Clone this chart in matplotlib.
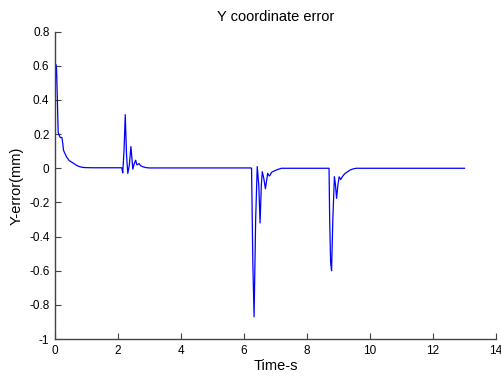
import matplotlib
matplotlib.use("Agg")
import matplotlib.pyplot as plt

# time (s) and Y error (mm)
time_s = [0.0, 0.01, 0.02, 0.05, 0.10, 0.14, 0.17, 0.22, 0.25, 0.27, 0.32, 0.37, 0.45,
          0.58, 0.66, 0.74, 0.85, 0.95, 1.2, 2.12,
          2.15, 2.19, 2.23, 2.27, 2.31, 2.36, 2.41, 2.47, 2.52, 2.56, 2.60, 2.67,
          2.72, 2.77, 2.88, 3.0, 6.22,
          6.24, 6.28, 6.32, 6.37, 6.42, 6.47, 6.51, 6.55, 6.58, 6.63, 6.68, 6.72,
          6.75, 6.80, 6.83, 6.87, 6.91, 6.97, 7.03, 7.10, 7.19, 7.3, 8.70,
          8.72, 8.75, 8.78, 8.82, 8.87, 8.90, 8.94, 8.98, 9.02, 9.07, 9.12, 9.16,
          9.21, 9.29, 9.37, 9.46, 9.56, 13.0]
y_err = [0.0, 0.45, 0.61, 0.58, 0.21, 0.19, 0.18, 0.18, 0.14, 0.105, 0.085, 0.065, 0.045,
         0.03, 0.02, 0.012, 0.006, 0.004, 0.003, 0.003,
         -0.027, 0.10, 0.314, 0.08, -0.03, 0.02, 0.127, -0.005, 0.03, 0.047, 0.02, 0.027,
         0.015, 0.01, 0.004, 0.002, 0.002,
         0.0, -0.55, -0.87, -0.30, 0.01, -0.10, -0.32, -0.10, -0.02, -0.06, -0.12, -0.07,
         -0.03, -0.045, -0.04, -0.025, -0.02, -0.015, -0.01, -0.005, 0.0, 0.0, 0.0,
         -0.30, -0.55, -0.60, -0.30, -0.05, -0.09, -0.176, -0.10, -0.05, -0.066, -0.05, -0.04,
         -0.03, -0.02, -0.01, -0.004, 0.0, 0.0]

plt.rcParams['font.family'] = ['Liberation Sans', 'DejaVu Sans']

fig = plt.figure(figsize=(5.02, 3.76), dpi=100)
ax = fig.add_axes((0.1096, 0.0984, 0.8784, 0.8173))

ax.plot(time_s, y_err, color='#0000ff', linewidth=0.9)

ax.set_xlim(0, 14)
ax.set_ylim(-1, 0.8)
ax.set_xticks(range(0, 15, 2))
ax.set_yticks([-1, -0.8, -0.6, -0.4, -0.2, 0, 0.2, 0.4, 0.6, 0.8])
ax.set_yticklabels(['-1', '-0.8', '-0.6', '-0.4', '-0.2', '0', '0.2', '0.4', '0.6', '0.8'])

# box off, ticks pointing in
ax.spines['top'].set_visible(False)
ax.spines['right'].set_visible(False)
for s in ['left', 'bottom']:
    ax.spines[s].set_color('#444444')
    ax.spines[s].set_linewidth(1.0)
ax.tick_params(direction='in', length=4, width=0.8, labelsize=8.5, colors='#444444',
               labelcolor='black')
ax.tick_params(axis='x', pad=4)
ax.tick_params(axis='y', pad=4)

ax.set_xlabel('Time-s', fontsize=10.5, labelpad=1.5)
ax.set_ylabel('Y-error(mm)', fontsize=10.5, labelpad=4)
ax.set_title('Y coordinate error', fontsize=10.5, pad=8)

fig.savefig('out.png', dpi=100)
